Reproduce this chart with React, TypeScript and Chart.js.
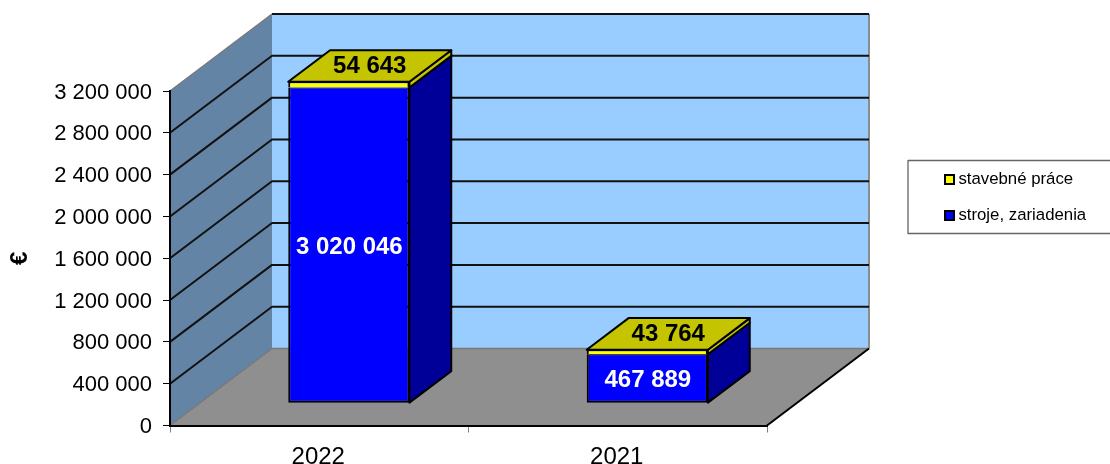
import React, { useEffect, useRef } from "react";
import { Chart, registerables } from "chart.js";

Chart.register(...registerables);

const categories = ["2022", "2021"];
const strojeZariadenia = [3020046, 467889];
const stavebnePrace = [54643, 43764];
const seriesNames = ["stroje, zariadenia", "stavebné práce"];
const yMax = 3200000;
const yStep = 400000;
const axisUnit = "€";

const FONT = "'Liberation Sans', Arial, sans-serif";
const WALL_DX = 102;
const WALL_DY = -77;
const BAR_OFFSET = 0.29;
const BAR_DEPTH = 0.41;

const BACK_WALL = "#99CCFF";
const SIDE_WALL = "#6484A6";
const FLOOR = "#8F8F8F";
const BLUE = "#0000FF";
const BLUE_SIDE = "#000099";
const YELLOW = "#FFFF00";
const YELLOW_DARK = "#C4C400";

const fmt = (v: number) => String(v).replace(/\B(?=(\d{3})+(?!\d))/g, " ");

function poly(ctx: CanvasRenderingContext2D, pts: number[][], fill: string | null, stroke: string | null, lw = 2) {
  ctx.beginPath();
  pts.forEach((p, i) => (i ? ctx.lineTo(p[0], p[1]) : ctx.moveTo(p[0], p[1])));
  if (fill) {
    ctx.closePath();
    ctx.fillStyle = fill;
    ctx.fill();
  }
  if (stroke) {
    ctx.strokeStyle = stroke;
    ctx.lineWidth = lw;
    ctx.lineJoin = "round";
    ctx.stroke();
  }
}

function swatch(color: string) {
  const c = document.createElement("canvas");
  c.width = 11;
  c.height = 11;
  const g = c.getContext("2d")!;
  g.fillStyle = "#000";
  g.fillRect(0, 0, 11, 11);
  g.fillStyle = color;
  g.fillRect(2, 2, 7, 7);
  return c;
}

const scene3d = {
  id: "scene3d",
  afterLayout(chart: any) {
    const l = chart.legend;
    if (l) {
      l.left = 929.8;
      l.right = 1110;
      l.top = 151.9;
      l.bottom = 300;
    }
  },
  beforeDraw(chart: any) {
    const { ctx, chartArea: a, scales } = chart;
    const y = scales.y;
    const top = y.getPixelForValue(yMax);
    const bot = y.getPixelForValue(0);
    const L = a.left;
    const R = a.right;
    const dx = WALL_DX;
    const dy = WALL_DY;
    ctx.save();
    poly(ctx, [[L + dx, top + dy], [R + dx, top + dy], [R + dx, bot + dy], [L + dx, bot + dy]], BACK_WALL, null);
    poly(ctx, [[L, top], [L + dx, top + dy], [L + dx, bot + dy], [L, bot]], SIDE_WALL, null);
    poly(ctx, [[L, bot], [L + dx, bot + dy], [R + dx, bot + dy], [R, bot]], FLOOR, null);
    poly(ctx, [[L, top], [L + dx, top + dy]], null, "#777777", 1.4);
    poly(ctx, [[L, bot], [L + dx, bot + dy], [R + dx, bot + dy]], null, "#777777", 1.4);
    poly(ctx, [[R + dx, top + dy], [R + dx, bot + dy]], null, "#8C8C8C", 2);
    poly(ctx, [[R, bot], [R + dx, bot + dy]], null, "#000000", 2);
    y.ticks.forEach((t: any) => {
      if (t.value === 0) return;
      const py = y.getPixelForValue(t.value);
      if (t.value === yMax) {
        poly(ctx, [[L + dx, py + dy], [R + dx, py + dy]], null, "#111111", 2);
      } else {
        poly(ctx, [[L, py], [L + dx, py + dy], [R + dx, py + dy]], null, "#111111", 2);
      }
    });
    ctx.strokeStyle = "#666666";
    ctx.lineWidth = 1.3;
    ctx.strokeRect(908, 160.5, 240, 73);
    ctx.restore();
  },
  beforeDatasetsDraw(chart: any) {
    const { ctx } = chart;
    const ox = WALL_DX * BAR_OFFSET;
    const oy = WALL_DY * BAR_OFFSET;
    const ddx = WALL_DX * BAR_DEPTH;
    const ddy = WALL_DY * BAR_DEPTH;
    const last = chart.data.datasets.length - 1;
    chart.data.datasets.forEach((ds: any, di: number) => {
      chart.getDatasetMeta(di).data.forEach((bar: any) => {
        const r = bar.x + bar.width / 2 + ox;
        const l = bar.x - bar.width / 2 + ox;
        const t = bar.y + oy;
        const b = bar.base + oy;
        poly(ctx, [[r, t], [r + ddx, t + ddy], [r + ddx, b + ddy], [r, b]], di === last ? YELLOW_DARK : BLUE_SIDE, "#000000");
        if (di === last) {
          poly(ctx, [[l, t], [l + ddx, t + ddy], [r + ddx, t + ddy], [r, t]], YELLOW_DARK, "#000000");
        }
      });
    });
  },
  beforeDatasetDraw(chart: any) {
    chart.ctx.save();
    chart.ctx.translate(WALL_DX * BAR_OFFSET, WALL_DY * BAR_OFFSET);
  },
  afterDatasetDraw(chart: any) {
    chart.ctx.restore();
  },
  afterDatasetsDraw(chart: any) {
    const { ctx } = chart;
    const ox = WALL_DX * BAR_OFFSET;
    const oy = WALL_DY * BAR_OFFSET;
    const ddx = WALL_DX * BAR_DEPTH;
    const ddy = WALL_DY * BAR_DEPTH;
    ctx.save();
    ctx.font = `bold 24px ${FONT}`;
    ctx.textAlign = "center";
    ctx.textBaseline = "middle";
    chart.getDatasetMeta(0).data.forEach((bar: any, i: number) => {
      ctx.fillStyle = "#FFFFFF";
      ctx.fillText(fmt(strojeZariadenia[i]), bar.x + ox + 0.5, (bar.y + bar.base) / 2 + oy + 2);
    });
    chart.getDatasetMeta(1).data.forEach((bar: any, i: number) => {
      ctx.fillStyle = "#000000";
      ctx.fillText(fmt(stavebnePrace[i]), bar.x + ox + ddx / 2, bar.y + oy + ddy / 2);
    });
    ctx.restore();
  },
};

export default function App() {
  const ref = useRef<HTMLCanvasElement>(null);
  useEffect(() => {
    const swatches = [swatch(BLUE), swatch(YELLOW)];
    const chart = new Chart(ref.current!, {
      type: "bar",
      data: {
        labels: categories,
        datasets: [
          { label: seriesNames[0], data: strojeZariadenia, backgroundColor: BLUE, borderColor: "#000000", borderWidth: { top: 1, left: 2, right: 2, bottom: 2 }, borderSkipped: false, clip: false },
          { label: seriesNames[1], data: stavebnePrace, backgroundColor: YELLOW, borderColor: "#000000", borderWidth: { top: 1.5, left: 2, right: 2, bottom: 0 }, borderSkipped: false, clip: false },
        ] as any,
      },
      plugins: [scene3d],
      options: {
        responsive: false,
        animation: false,
        font: { family: FONT },
        layout: { padding: { top: 91, right: 243, left: 0, bottom: 0 } },
        datasets: { bar: { categoryPercentage: 1, barPercentage: 0.406 } },
        plugins: {
          tooltip: { enabled: false },
          legend: {
            position: "right",
            align: "start",
            reverse: true,
            maxWidth: 100,
            labels: {
              usePointStyle: true,
              pointStyleWidth: 1,
              boxHeight: 11,
              padding: 19.2,
              color: "#000000",
              font: { family: FONT, size: 16.8 },
              generateLabels: (c: any) =>
                Chart.defaults.plugins.legend.labels.generateLabels(c).map((it: any) => ({ ...it, pointStyle: swatches[it.datasetIndex] })),
            },
          },
        },
        scales: {
          x: {
            stacked: true,
            afterFit: (s: any) => { s.height = 38.5; },
            grid: { drawOnChartArea: false, drawTicks: true, tickLength: 7, color: "#808080" },
            border: { color: "#000000", width: 2 },
            ticks: { color: "#000000", padding: 10, labelOffset: -1, font: { family: FONT, size: 24 }, maxRotation: 0 },
          },
          y: {
            stacked: true,
            min: 0,
            max: yMax,
            afterFit: (s: any) => { s.width = 170; },
            grid: { drawOnChartArea: false, drawTicks: true, tickLength: 7, color: "#000000" },
            border: { color: "#000000", width: 2 },
            ticks: { stepSize: yStep, color: "#000000", padding: 11, labelOffset: 1.5, font: { family: FONT, size: 22 }, callback: (v: any) => fmt(Number(v)) },
            title: { display: true, text: axisUnit, color: "#000000", font: { family: FONT, size: 24, weight: "bold" }, padding: { top: 6, bottom: 0 } },
          },
        },
      } as any,
    });
    return () => chart.destroy();
  }, []);
  return (
    <div style={{ position: "absolute", left: 0, top: 0, width: 1110, height: 464, overflow: "hidden" }}>
      <canvas ref={ref} width={1110} height={464} style={{ display: "block" }} />
    </div>
  );
}
